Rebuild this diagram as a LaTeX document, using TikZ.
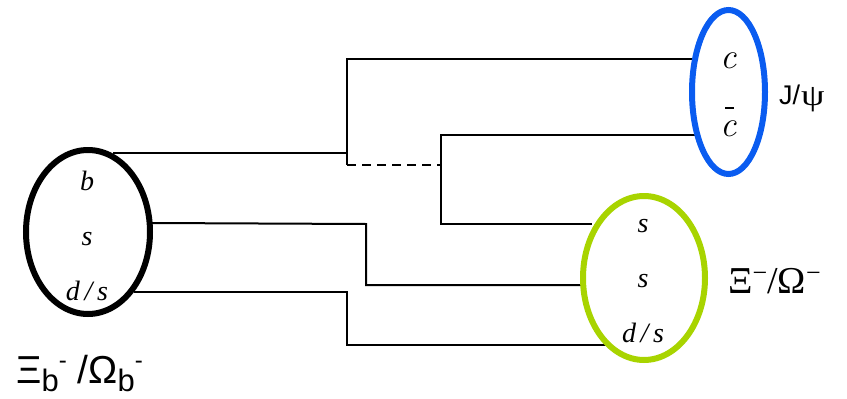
\documentclass[tikz,border=0pt]{standalone}
\usepackage{fontspec}
\setmainfont{Liberation Serif}
\newfontfamily\labelsans{Liberation Sans}
\newfontfamily\cmfont{Latin Modern Roman}
\usetikzlibrary{shapes.geometric}
\definecolor{jpsiblue}{HTML}{0A5CF0}
\definecolor{hyperongreen}{HTML}{A8D400}
\begin{document}
\begin{tikzpicture}[x=1pt,y=-1pt,
  quark/.style={anchor=base, inner sep=0pt, font=\fontsize{28}{30}\selectfont\itshape},
  charm/.style={anchor=base, inner sep=0pt, font=\cmfont\fontsize{36}{38}\selectfont\itshape},
  hadron/.style={draw, ellipse, line width=6pt, inner sep=0pt},
  wire/.style={line width=2pt},
  gluonwire/.style={wire, dash pattern=on 9pt off 6pt},
  tag/.style={anchor=base west, inner sep=0pt},
]
\useasboundingbox (0,0) rectangle (847,399);

% quark lines: endpoints on the hadron outlines and the corners of the lines
\coordinate (bq) at (113,153);
\coordinate (sq) at (152,223);
\coordinate (dq) at (134,292);
\coordinate (cq) at (695,59);
\coordinate (cbq) at (695,135);
\coordinate (s1q) at (592,224);
\coordinate (s2q) at (582,285);
\coordinate (d2q) at (606,345);
\coordinate (wtop) at (347,59);
\coordinate (wbot) at (347,165);
\coordinate (ptop) at (441,135);
\coordinate (pbot) at (441,224);
\coordinate (pdash) at (441,165);
\coordinate (mid) at (366,224);
\coordinate (low) at (347,292);

\draw[wire] (cq) -- (wtop) -- (wbot);
\draw[wire] (bq) -- (bq -| wtop);
\draw[gluonwire] (wbot) -- (pdash);
\draw[wire] (cbq) -- (ptop) -- (pbot) -- (s1q);
\draw[wire] (sq) -- (mid) -- (mid |- s2q) -- (s2q);
\draw[wire] (dq) -- (low) -- (low |- d2q) -- (d2q);

% hadrons
\node[hadron, draw=black, minimum width=124pt, minimum height=164pt] (xib) at (88,232) {};
\node[hadron, draw=jpsiblue, minimum width=73pt, minimum height=164pt] (jpsi) at (728.5,92) {};
\node[hadron, draw=hyperongreen, minimum width=122pt, minimum height=164pt] (xi) at (644,278) {};

% quark content
\node[quark] (b1) at (87,190) {b};
\node[quark] (b2) at (87,245) {s};
\node[quark] (b3) at (87,300) {d\,/\,s};
\node[quark] (x1) at (643,232) {s};
\node[quark] (x2) at (643,287) {s};
\node[quark] (x3) at (643,342) {d\,/\,s};
\node[charm] (c1) at (729,68) {c};
\node[charm] (c2) at (729,136) {c};
\draw[line width=1.6pt] ([xshift=-4pt,yshift=12pt]c2.north) -- ([xshift=5pt,yshift=12pt]c2.north);

% hadron names
\node[tag, font=\labelsans\fontsize{27}{30}\selectfont] (ljpsi) at (779,104)
  {J/\kern1pt\raisebox{-1pt}{\fontsize{30}{32}\selectfont\rmfamily\scalebox{1.25}[1]{ψ}}};
\node[tag, font=\fontsize{38}{40}\selectfont] (lxi) at (728,293)
  {Ξ\raisebox{12pt}{\fontsize{26}{26}\selectfont −}/Ω\raisebox{12pt}{\fontsize{26}{26}\selectfont −}};
\node[tag, font=\labelsans\fontsize{39}{40}\selectfont] (lxib) at (16,383)
  {Ξ\raisebox{-8pt}{\fontsize{31}{31}\selectfont b}\raisebox{15pt}{\fontsize{24}{24}\selectfont -} /Ω\raisebox{-8pt}{\fontsize{31}{31}\selectfont b}\raisebox{15pt}{\fontsize{24}{24}\selectfont -}};
\end{tikzpicture}
\end{document}
